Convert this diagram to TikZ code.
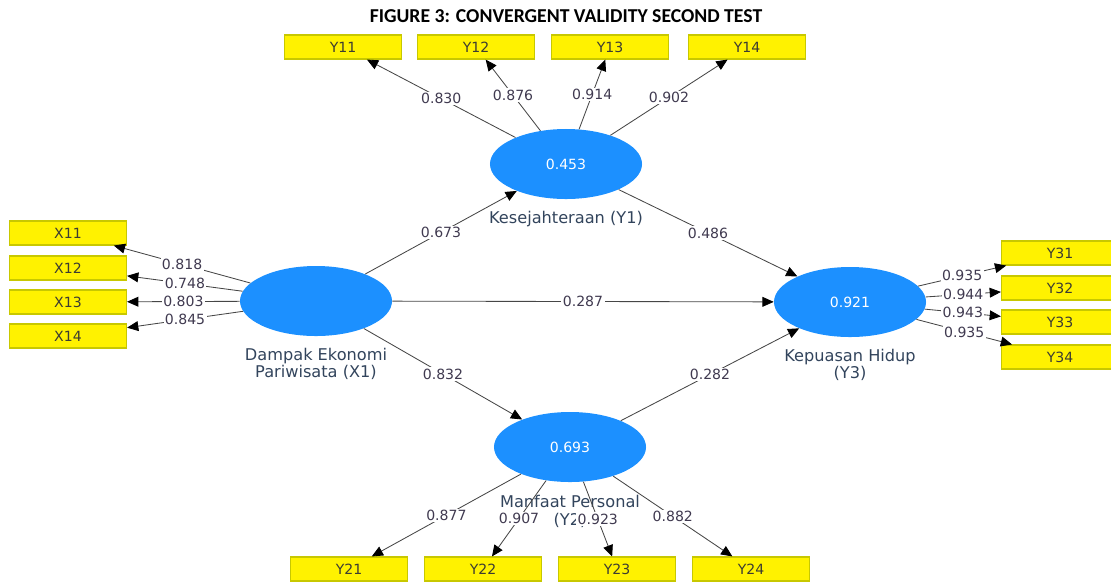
\documentclass[tikz,border=0pt]{standalone}
\usepackage{fontspec}
\setmainfont{DejaVu Sans}
\newfontfamily\titlefont{Carlito}
\usepackage{tikz}
\usetikzlibrary{arrows.meta,positioning,shapes.geometric}
\definecolor{lvblue}{RGB}{28,144,255}
\definecolor{boxedge}{RGB}{200,200,0}
\definecolor{boxtext}{RGB}{60,60,50}
\definecolor{nametext}{RGB}{50,68,92}
\definecolor{coeftext}{RGB}{64,58,80}
\definecolor{linegray}{RGB}{70,70,70}

\begin{document}
\begin{tikzpicture}[
  x=0.025cm, y=-0.025cm,
  latent/.style={ellipse, fill=lvblue, minimum width=3.8cm, minimum height=1.75cm, inner sep=0pt, text=white, font=\fontsize{10}{12}\selectfont},
  indic/.style={rectangle, draw=boxedge, fill=yellow, line width=0.8pt, minimum width=2.925cm, minimum height=0.6cm, inner sep=0pt, text=boxtext, font=\fontsize{10}{12}\selectfont},
  lvname/.style={align=center, inner sep=0pt, text=nametext, font=\fontsize{11.5}{12.5}\selectfont},
  coef/.style={fill=white, inner sep=1pt, text=coeftext, font=\fontsize{10}{12}\selectfont},
  arr/.style={-{Triangle[length=8pt, width=7pt, color=black]}, draw=linegray, line width=0.6pt}
]
\useasboundingbox (0,0) rectangle (1111,581);

% Title
\node[font=\titlefont\bfseries\fontsize{14}{16}\selectfont] (title) at (566,16) {FIGURE 3: CONVERGENT VALIDITY SECOND TEST};

% Latent variables
\node[latent] (x1) at (316,301) {};
\node[latent] (y1) at (566,164) {0.453};
\node[latent] (y2) at (570,447) {0.693};
\node[latent] (y3) at (850,302) {0.921};

% Latent variable names
\node[lvname, below=8pt of y1] (y1name) {Kesejahteraan (Y1)};
\node[lvname, below=8pt of x1] (x1name) {Dampak Ekonomi\\Pariwisata (X1)};
\node[lvname, below=8pt of y3] (y3name) {Kepuasan Hidup\\(Y3)};
\node[lvname, below=9pt of y2] (y2name) {Manfaat Personal\\(Y2)};

% Indicators of X1
\node[indic] (x11) at (68,233) {X11};
\node[indic] (x12) at (68,268) {X12};
\node[indic] (x13) at (68,302) {X13};
\node[indic] (x14) at (68,336) {X14};

% Indicators of Y1
\node[indic] (y11) at (343,47) {Y11};
\node[indic] (y12) at (476,47) {Y12};
\node[indic] (y13) at (610,47) {Y13};
\node[indic] (y14) at (747,47) {Y14};

% Indicators of Y2
\node[indic] (y21) at (349,569) {Y21};
\node[indic] (y22) at (483,569) {Y22};
\node[indic] (y23) at (617,569) {Y23};
\node[indic] (y24) at (751,569) {Y24};

% Indicators of Y3
\node[indic] (y31) at (1060,253) {Y31};
\node[indic] (y32) at (1060,288) {Y32};
\node[indic] (y33) at (1060,322) {Y33};
\node[indic] (y34) at (1060,357) {Y34};

% Outer loadings
\draw[arr] (x1) -- node[coef] {0.818} (x11);
\draw[arr] (x1) -- node[coef] {0.748} (x12);
\draw[arr] (x1) -- node[coef] {0.803} (x13);
\draw[arr] (x1) -- node[coef] {0.845} (x14);

\draw[arr] (y1) -- node[coef] {0.830} (y11);
\draw[arr] (y1) -- node[coef] {0.876} (y12);
\draw[arr] (y1) -- node[coef] {0.914} (y13);
\draw[arr] (y1) -- node[coef] {0.902} (y14);

\draw[arr] (y2) -- node[coef] {0.877} (y21);
\draw[arr] (y2) -- node[coef] {0.907} (y22);
\draw[arr] (y2) -- node[coef] {0.923} (y23);
\draw[arr] (y2) -- node[coef] {0.882} (y24);

\draw[arr] (y3) -- node[coef] {0.935} (y31);
\draw[arr] (y3) -- node[coef] {0.944} (y32);
\draw[arr] (y3) -- node[coef] {0.943} (y33);
\draw[arr] (y3) -- node[coef] {0.935} (y34);

% Path coefficients
\draw[arr] (x1) -- node[coef] {0.673} (y1);
\draw[arr] (x1) -- node[coef] {0.287} (y3);
\draw[arr] (x1) -- node[coef] {0.832} (y2);
\draw[arr] (y1) -- node[coef] {0.486} (y3);
\draw[arr] (y2) -- node[coef] {0.282} (y3);

\end{tikzpicture}
\end{document}
